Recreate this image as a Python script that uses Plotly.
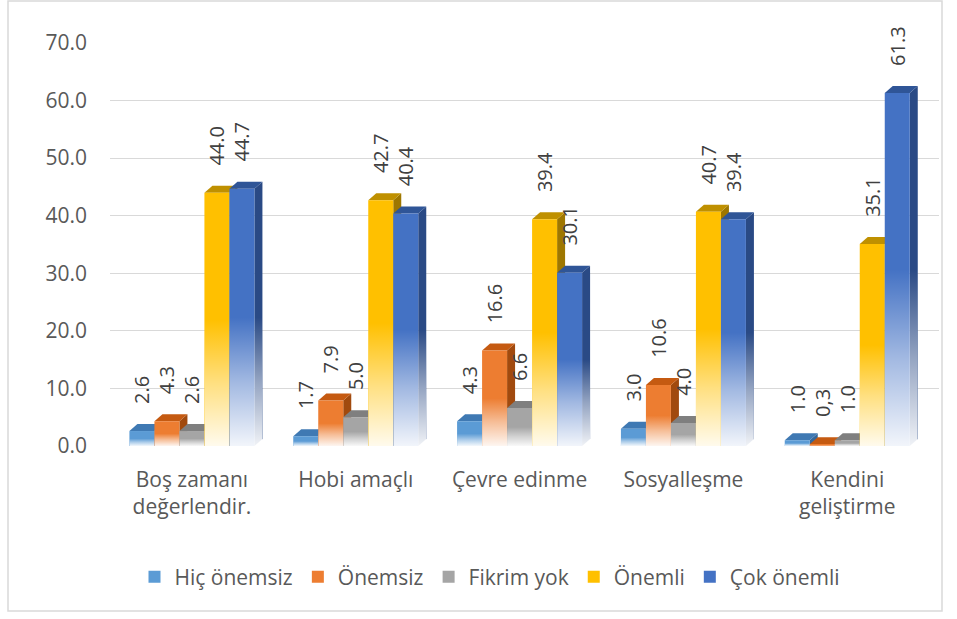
import base64
import plotly.graph_objects as go

# ---------------- data ----------------
categories = ["Boş zamanı<br>değerlendir.", "Hobi amaçlı", "Çevre edinme", "Sosyalleşme", "Kendini<br>geliştirme"]
series_names = ["Hiç önemsiz", "Önemsiz", "Fikrim yok", "Önemli", "Çok önemli"]
hic_onemsiz = [2.6, 1.7, 4.3, 3.0, 1.0]
onemsiz = [4.3, 7.9, 16.6, 10.6, 0.3]
fikrim_yok = [2.6, 5.0, 6.6, 4.0, 1.0]
onemli = [44.0, 42.7, 39.4, 40.7, 35.1]
cok_onemli = [44.7, 40.4, 30.1, 39.4, 61.3]
label_overrides = {("Önemsiz", 4): "0,3"}
y_ticks = [0, 10, 20, 30, 40, 50, 60, 70]

series_values = [hic_onemsiz, onemsiz, fikrim_yok, onemli, cok_onemli]

# ---------------- style ----------------
front_colors = ["#5B9BD5", "#ED7D31", "#A5A5A5", "#FFC000", "#4472C4"]
top_colors = ["#3F79B3", "#C55A11", "#7F7F7F", "#BF9000", "#2F5597"]
side_colors = ["#35679A", "#A14A0E", "#6B6B6B", "#9E7700", "#2A4A85"]
FONT = "Open Sans"
TEXT = "#595959"

W_PX, H_PX = 957, 619
L, R, T, B = 110, 18, 43, 173
plot_w = W_PX - L - R
plot_h = H_PX - T - B
x_range = [-0.5, 4.56]
y_range = [0, 70]
px_per_x = plot_w / (x_range[1] - x_range[0])
px_per_y = plot_h / (y_range[1] - y_range[0])

gap = 0.237
n = len(series_names)
bw = (1 - gap) / n
DX = 8 / px_per_x      # 3D depth, horizontal
DY = 7 / px_per_y      # 3D depth, vertical
FADE = 0.5

x_pos = list(range(len(categories)))

fade_svg = (
    '<svg xmlns="http://www.w3.org/2000/svg" width="10" height="100" viewBox="0 0 10 100" '
    'preserveAspectRatio="none"><defs><linearGradient id="g" x1="0" y1="0" x2="0" y2="1">'
    '<stop offset="0" stop-color="#ffffff" stop-opacity="0"/>'
    '<stop offset="0.5" stop-color="#ffffff" stop-opacity="0.5"/>'
    '<stop offset="1" stop-color="#ffffff" stop-opacity="0.93"/>'
    '</linearGradient></defs><rect width="10" height="100" fill="url(#g)"/></svg>'
)
fade_src = "data:image/svg+xml;base64," + base64.b64encode(fade_svg.encode()).decode()

fig = go.Figure()
shapes = []
images = []

for ci in x_pos:
    for si, (name, vals) in enumerate(zip(series_names, series_values)):
        v = vals[ci]
        x0 = ci - (1 - gap) / 2 + si * bw
        x1 = x0 + bw
        # side face
        shapes.append(dict(
            type="path", xref="x", yref="y", layer="between",
            path=f"M {x1},{0} L {x1 + DX},{DY} L {x1 + DX},{v + DY} L {x1},{v} Z",
            fillcolor=side_colors[si], line=dict(width=0)))
        # top face
        shapes.append(dict(
            type="path", xref="x", yref="y", layer="between",
            path=f"M {x0},{v} L {x1},{v} L {x1 + DX},{v + DY} L {x0 + DX},{v + DY} Z",
            fillcolor=top_colors[si], line=dict(width=0)))
        # bottom fade
        extra = DX if si == n - 1 else 0
        images.append(dict(
            source=fade_src, xref="x", yref="y", x=x0, y=v * FADE,
            sizex=bw + extra, sizey=v * FADE, xanchor="left", yanchor="top",
            sizing="stretch", layer="above"))

for si, (name, vals) in enumerate(zip(series_names, series_values)):
    labels = []
    for ci, v in enumerate(vals):
        lab = label_overrides.get((name, ci), f"{v:.1f}")
        labels.append("\u00a0" * 4 + "\u2009" + lab)
    fig.add_trace(go.Bar(
        name=name, x=x_pos, y=vals,
        width=bw, offset=-(1 - gap) / 2 + si * bw,
        marker=dict(color=front_colors[si], line=dict(width=0)),
        text=labels, textposition="outside", textangle=-90,
        constraintext="none", cliponaxis=False,
        textfont=dict(family=FONT, size=20, color="#404040"),
    ))

# chart border
def px_to_paper_x(px):
    return (px - L) / plot_w

def px_to_paper_y(py):
    return (H_PX - B - py) / plot_h

shapes.append(dict(
    type="rect", xref="paper", yref="paper",
    x0=px_to_paper_x(8), x1=px_to_paper_x(942),
    y0=px_to_paper_y(611), y1=px_to_paper_y(1),
    line=dict(color="#D9D9D9", width=1.5), fillcolor="rgba(0,0,0,0)", layer="below"))

fig.update_layout(
    width=W_PX, height=H_PX,
    margin=dict(l=L, r=R, t=T, b=B, autoexpand=False),
    paper_bgcolor="white", plot_bgcolor="white",
    barmode="overlay",
    showlegend=True,
    legend=dict(orientation="h", x=px_to_paper_x(490), xanchor="center",
                y=px_to_paper_y(577), yanchor="middle",
                font=dict(family=FONT, size=21, color=TEXT),
                itemclick=False, traceorder="normal"),
    font=dict(family=FONT, color=TEXT),
    xaxis=dict(range=x_range, tickvals=x_pos, ticktext=categories,
               showgrid=False, zeroline=False, showline=False, ticks="",
               tickfont=dict(family=FONT, size=21, color=TEXT),
               ticklabelstandoff=19, fixedrange=True),
    yaxis=dict(range=y_range, tickvals=y_ticks, tickformat=".1f",
               showgrid=True, gridcolor="#D9D9D9", gridwidth=1,
               zeroline=False, showline=False, ticks="",
               tickfont=dict(family=FONT, size=21, color=TEXT),
               ticklabelstandoff=22, fixedrange=True),
    shapes=shapes, images=images,
)

fig.write_html("out.html", config={"displayModeBar": False},
               post_script="document.body.style.margin='0';")
